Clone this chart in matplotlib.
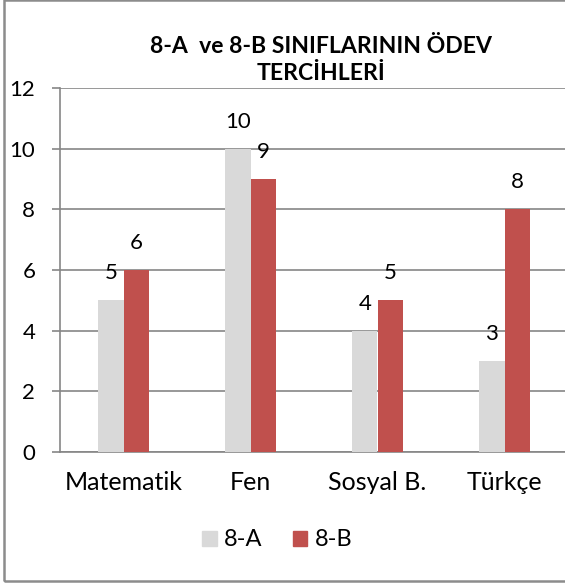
import numpy as np
import matplotlib
matplotlib.use('Agg')
import matplotlib.pyplot as plt
from matplotlib.patches import Rectangle, Patch

plt.rcParams['font.family'] = ['Lato', 'DejaVu Sans']

# data
categories = ['Matematik', 'Fen', 'Sosyal B.', 'Türkçe']
series_names = ['8-A', '8-B']
values_a = [5, 10, 4, 3]
values_b = [6, 9, 5, 8]
colors = ['#D9D9D9', '#C0504D']
title = '8-A  ve 8-B SINIFLARININ ÖDEV\nTERCİHLERİ'

W, H = 565, 584
fig = plt.figure(figsize=(W / 100, H / 100), dpi=100)

# plot area in pixels (left, top, right, bottom) - runs off the right edge
L, T, R, B = 60, 88, 568, 452
ax = fig.add_axes([L / W, 1 - B / H, (R - L) / W, (B - T) / H])

x = np.arange(len(categories))
bw = 0.2
bars_a = ax.bar(x - bw / 2, values_a, bw, color=colors[0], zorder=3)
bars_b = ax.bar(x + bw / 2, values_b, bw, color=colors[1], zorder=3)

fs_num = 16
fs_cat = 18
for bars, vals in [(bars_a, values_a), (bars_b, values_b)]:
    for b, v in zip(bars, vals):
        ax.annotate(str(v), (b.get_x() + b.get_width() / 2, v),
                    xytext=(0, 19.5), textcoords='offset points',
                    ha='center', va='center', fontsize=fs_num, color='black')

ax.set_ylim(0, 12)
ax.set_yticks(range(0, 13, 2))
ax.set_xlim(-0.5, 3.5)
ax.set_xticks(x)
ax.set_xticklabels(categories)

ax.grid(axis='y', color='#868686', linewidth=1.2, zorder=0)
for s in ['top', 'right']:
    ax.spines[s].set_visible(False)
ax.spines['left'].set_color('#868686')
ax.spines['bottom'].set_color('#868686')
ax.spines['left'].set_linewidth(1.2)
ax.spines['bottom'].set_linewidth(1.2)
ax.tick_params(axis='y', length=5.8, color='#868686', width=1.2, labelsize=fs_num, pad=12)
ax.tick_params(axis='x', length=0, labelsize=fs_cat, pad=14)

fig.text(321 / W, 1 - 60 / H, title, ha='center', va='center',
         fontsize=16.6, fontweight='bold', linespacing=1.3)

handles = [Patch(color=c) for c in colors]
fig.legend(handles, series_names, loc='center', bbox_to_anchor=(277 / W, 1 - 540 / H),
           ncol=2, frameon=False, fontsize=fs_num + 1, handlelength=0.62, handleheight=0.62,
           handletextpad=0.3, columnspacing=1.3)

fig.patches.append(Rectangle((4 / W, 3 / H), 1.2, 1 - 3 / H, transform=fig.transFigure,
                             fill=False, edgecolor='#8C8C8C', linewidth=1.8, zorder=0))

fig.savefig('out.png', dpi=100)
